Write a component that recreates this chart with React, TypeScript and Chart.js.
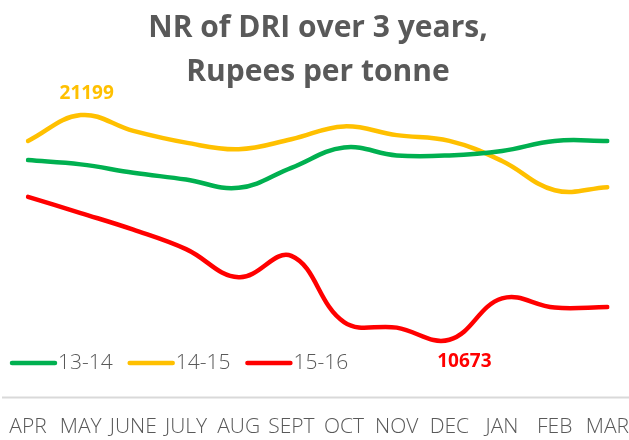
import React, { useEffect, useRef } from "react";
import { Chart, registerables } from "chart.js";

Chart.register(...registerables);

const months = ["APR", "MAY", "JUNE", "JULY", "AUG", "SEPT", "OCT", "NOV", "DEC", "JAN", "FEB", "MAR"];
const seriesLabels = ["13-14", "14-15", "15-16"];
const values1314 = [19090, 18890, 18500, 18180, 17790, 18730, 19680, 19310, 19310, 19520, 19990, 19990];
const values1415 = [19990, 21199, 20460, 19910, 19600, 20070, 20670, 20260, 19990, 19050, 17680, 17820];
const values1516 = [17370, 16610, 15830, 14920, 13600, 14600, 11500, 11240, 10673, 12610, 12180, 12210];
const seriesColors = ["#00B050", "#FFC000", "#FF0000"];
const titleLines = ["NR of DRI over 3 years,", "Rupees per tonne"];

const FONT = "'Open Sans', 'Noto Sans', sans-serif";
const GRAY = "#595959";

const overlayPlugin = {
  id: "overlay",
  beforeDatasetsDraw(chart: any) {
    const ctx = chart.ctx;
    const y = Math.round(chart.chartArea.bottom) + 0.5;
    ctx.save();
    ctx.strokeStyle = "#D9D9D9";
    ctx.lineWidth = 2;
    ctx.beginPath();
    ctx.moveTo(2, y);
    ctx.lineTo(chart.width, y);
    ctx.stroke();
    ctx.restore();
  },
  afterDatasetsDraw(chart: any) {
    const ctx = chart.ctx;
    ctx.save();
    // legend
    ctx.font = `300 21px ${FONT}`;
    ctx.textBaseline = "middle";
    let x = 12;
    const ly = 363;
    chart.data.datasets.forEach((ds: any) => {
      ctx.strokeStyle = ds.borderColor;
      ctx.lineWidth = 4.5;
      ctx.lineCap = "round";
      ctx.beginPath();
      ctx.moveTo(x, ly);
      ctx.lineTo(x + 43, ly);
      ctx.stroke();
      ctx.fillStyle = GRAY;
      ctx.textAlign = "left";
      ctx.fillText(ds.label, x + 46, ly);
      x += 46 + ctx.measureText(ds.label).width + 17;
    });
    // data labels
    ctx.font = `bold 19px ${FONT}`;
    ctx.textAlign = "center";
    const maxIdx = values1415.indexOf(Math.max(...values1415));
    const p1 = chart.getDatasetMeta(1).data[maxIdx];
    ctx.fillStyle = seriesColors[1];
    ctx.fillText(String(values1415[maxIdx]), p1.x + 6, p1.y - 22);
    const minIdx = values1516.indexOf(Math.min(...values1516));
    const p2 = chart.getDatasetMeta(2).data[minIdx];
    ctx.fillStyle = seriesColors[2];
    ctx.fillText(String(values1516[minIdx]), p2.x + 15, p2.y + 22);
    ctx.restore();
  },
};

export default function App() {
  const ref = useRef<HTMLCanvasElement>(null);
  useEffect(() => {
    const chart = new Chart(ref.current!, {
      type: "line",
      data: {
        labels: months,
        datasets: [values1314, values1415, values1516].map((d, i) => ({
          label: seriesLabels[i],
          data: d,
          borderColor: seriesColors[i],
          backgroundColor: seriesColors[i],
          borderWidth: 4.5,
          pointRadius: 0,
          tension: 0.4,
          borderCapStyle: "round" as const,
          fill: false,
        })),
      },
      options: {
        responsive: false,
        animation: false,
        layout: { padding: { left: 28, right: 21, top: 0, bottom: 0 } },
        plugins: {
          legend: { display: false },
          tooltip: { enabled: false },
          title: {
            display: true,
            text: titleLines,
            color: GRAY,
            font: { family: FONT, size: 30, weight: "bold", lineHeight: 1.45 },
            padding: { top: 7, bottom: 4 },
          },
        },
        scales: {
          x: {
            offset: false,
            grid: {
              display: true,
              drawOnChartArea: false,
              drawTicks: true,
              tickLength: 18,
              tickColor: "rgba(0,0,0,0)",
            },
            border: { display: false },
            ticks: {
              color: GRAY,
              font: { family: FONT, size: 21, weight: 300 },
              padding: 0,
              maxRotation: 0,
              autoSkip: false,
            },
          },
          y: { display: false, min: 8000, max: 22000 },
        },
      },
      plugins: [overlayPlugin],
    });
    return () => chart.destroy();
  }, []);
  return (
    <div style={{ position: "absolute", left: 0, top: 0, width: 629, height: 440, background: "#fff" }}>
      <canvas ref={ref} width={629} height={440} />
    </div>
  );
}
